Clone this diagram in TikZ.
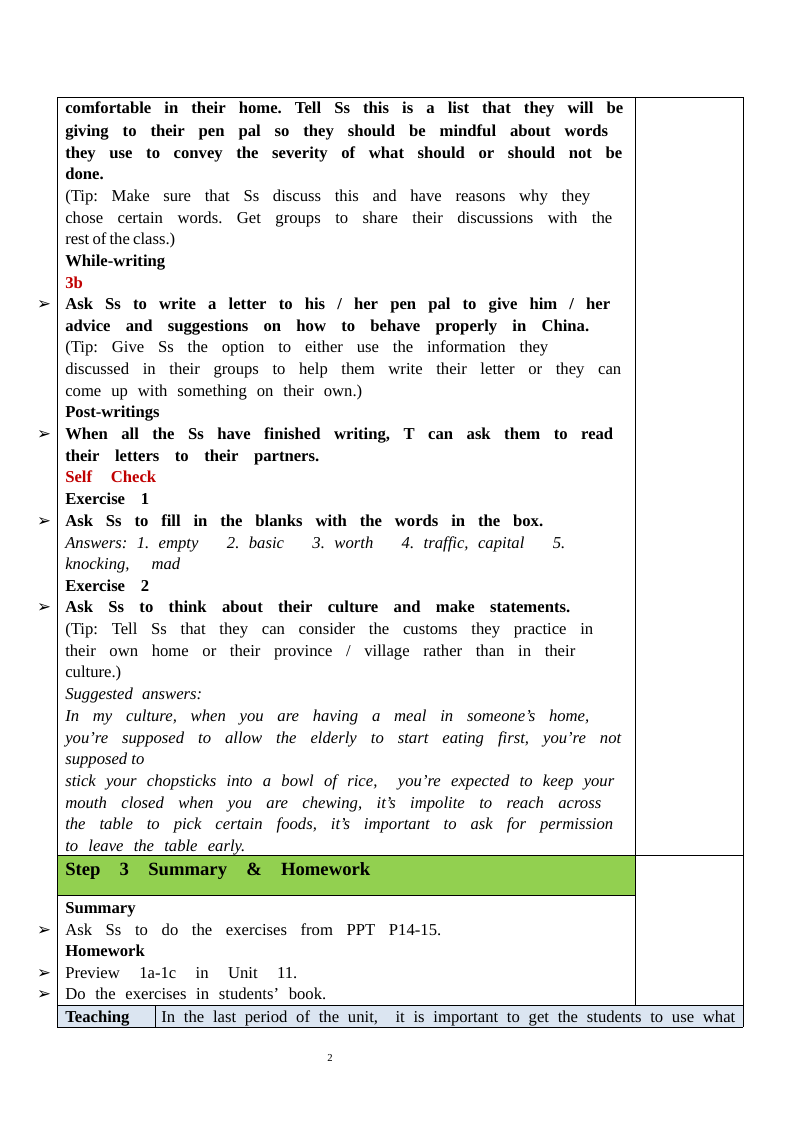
\documentclass[tikz,border=0pt]{standalone}
\usepackage{fontspec}
\setmainfont{Liberation Serif}
\newfontfamily\dejavu{DejaVu Sans}
\usepackage{xcolor}
\definecolor{stepgreen}{RGB}{146,208,80}
\definecolor{teachblue}{RGB}{219,229,241}
\definecolor{selfred}{RGB}{192,0,0}
\frenchspacing
% justified line from x = 65 to x = #1 (px)
\newcommand\jw[2]{\makebox[\dimexpr(#1pt-65pt)*3/4\relax][s]{#2}}
\tikzset{
  txt/.style={anchor=base west, inner sep=0, font=\fontsize{12.5}{15}\selectfont},
  mk/.style={anchor=base, inner sep=0, font=\dejavu\bfseries\fontsize{12.5}{14}\selectfont},
  rule/.style={line width=0.6pt}
}
\begin{document}
\begin{tikzpicture}[x=0.75pt, y=-0.75pt]
    \useasboundingbox (0,0) rectangle (800,1132);

    % green step row and teaching row
    \fill [stepgreen] (57,855) rectangle (635,895);
    \fill [teachblue] (57,1005) rectangle (743,1027);

    % table lines
    \draw [rule] (57,97) -- (743,97);
    \draw [rule] (57,97) -- (57,1027);
    \draw [rule] (743,97) -- (743,1027);
    \draw [rule] (635,97) -- (635,1005);
    \draw [rule] (57,855) -- (743,855);
    \draw [rule] (57,895) -- (635,895);
    \draw [rule] (57,1005) -- (743,1005);
    \draw [rule] (57,1027) -- (743,1027);
    \draw [rule] (155,1005) -- (155,1027);

    % body text
    \node[txt] at (65,113) {\bfseries\jw{623}{comfortable in their home. Tell Ss this is a list that they will be}};
    \node[txt] at (65,136) {\bfseries\jw{608}{giving to their pen pal so they should be mindful about words}};
    \node[txt] at (65,158) {\bfseries\jw{622}{they use to convey the severity of what should or should not be}};
    \node[txt] at (65,179) {\bfseries done.};
    \node[txt] at (65,201) {\jw{590}{(Tip: Make sure that Ss discuss this and have reasons why they}};
    \node[txt] at (65,223) {\jw{612}{chose certain words. Get groups to share their discussions with the}};
    \node[txt] at (65,244) {\jw{175}{rest of the class.)}};
    \node[txt] at (65,266) {\bfseries While-writing};
    \node[txt] at (65,288) {\bfseries\color{selfred}3b};
    \node[mk] at (44,309) {➢};
    \node[txt] at (65,309) {\bfseries\jw{610}{Ask Ss to write a letter to his / her pen pal to give him / her}};
    \node[txt] at (65,331) {\bfseries\jw{589}{advice and suggestions on how to behave properly in China.}};
    \node[txt] at (65,352) {\jw{548}{(Tip: Give Ss the option to either use the information they}};
    \node[txt] at (65,374) {\jw{621}{discussed in their groups to help them write their letter or they can}};
    \node[txt] at (65,396) {\jw{362}{come up with something on their own.)}};
    \node[txt] at (65,417) {\bfseries Post-writings};
    \node[mk] at (44,439) {➢};
    \node[txt] at (65,439) {\bfseries\jw{613}{When all the Ss have finished writing, T can ask them to read}};
    \node[txt] at (65,461) {\bfseries\jw{319}{their letters to their partners.}};
    \node[txt] at (65,482) {\bfseries\color{selfred}\jw{156}{Self Check}};
    \node[txt] at (65,504) {\bfseries\jw{149}{Exercise 1}};
    \node[mk] at (44,526) {➢};
    \node[txt] at (65,526) {\bfseries\jw{543}{Ask Ss to fill in the blanks with the words in the box.}};
    \node[txt] at (65,548) {\itshape\jw{565}{Answers: 1. empty \ \ 2. basic \ \ 3. worth \ \ 4. traffic, capital \ \ 5.}};
    \node[txt] at (65,569) {\itshape\jw{180}{knocking, mad}};
    \node[txt] at (65,591) {\bfseries\jw{149}{Exercise 2}};
    \node[mk] at (44,612) {➢};
    \node[txt] at (65,612) {\bfseries\jw{570}{Ask Ss to think about their culture and make statements.}};
    \node[txt] at (65,634) {\jw{593}{(Tip: Tell Ss that they can consider the customs they practice in}};
    \node[txt] at (65,656) {\jw{575}{their own home or their province / village rather than in their}};
    \node[txt] at (65,677) {culture.)};
    \node[txt] at (65,699) {\itshape\jw{202}{Suggested answers:}};
    \node[txt] at (65,721) {\itshape\jw{589}{In my culture, when you are having a meal in someone’s home,}};
    \node[txt] at (65,743) {\itshape\jw{621}{you’re supposed to allow the elderly to start eating first, you’re not}};
    \node[txt] at (65,764) {\itshape supposed to};
    \node[txt] at (65,786) {\itshape\jw{614}{stick your chopsticks into a bowl of rice, \ you’re expected to keep your}};
    \node[txt] at (65,808) {\itshape\jw{601}{mouth closed when you are chewing, it’s impolite to reach across}};
    \node[txt] at (65,829) {\itshape\jw{613}{the table to pick certain foods, it’s important to ask for permission}};
    \node[txt] at (65,851) {\itshape\jw{245}{to leave the table early.}};

    % step 3
    \node[txt, font=\fontsize{14}{17}\selectfont\bfseries] at (65,875) {\jw{370}{Step 3 Summary \& Homework}};
    \node[txt] at (65,913) {\bfseries Summary};
    \node[mk] at (44,935) {➢};
    \node[txt] at (65,935) {\jw{441}{Ask Ss to do the exercises from PPT P14-15.}};
    \node[txt] at (65,956) {\bfseries Homework};
    \node[mk] at (44,978) {➢};
    \node[txt] at (65,978) {\jw{297}{Preview 1a-1c in Unit 11.}};
    \node[mk] at (44,999) {➢};
    \node[txt] at (65,999) {\jw{326}{Do the exercises in students’ book.}};

    % teaching row
    \node[txt] at (65,1022) {\bfseries Teaching};
    \node[txt] at (161,1022) {\jw{639}{In the last period of the unit, \ it is important to get the students to use what}};

    % page number
    \node[anchor=base, inner sep=0, font=\fontsize{8}{10}\selectfont] at (330,1061) {2};
\end{tikzpicture}
\end{document}
